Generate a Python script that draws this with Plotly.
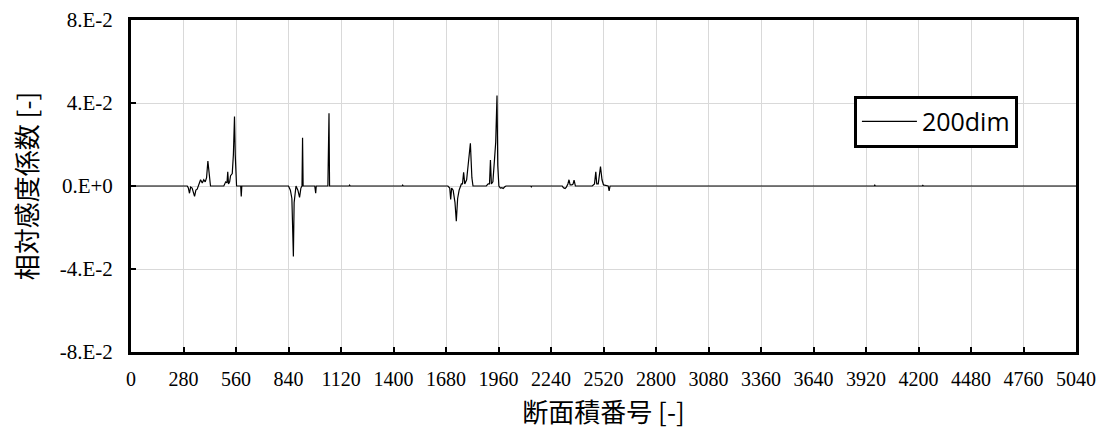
import plotly.graph_objects as go

# Section number (x) and relative sensitivity coefficient (y)
section_no = [
    0, 300, 306, 312, 318, 326, 339, 346, 353, 362, 371, 380, 388, 396, 403, 410, 417, 424,
    495, 505, 512, 516, 520, 526, 531, 540, 546, 552, 556, 563, 585, 588, 591,
    840, 850, 858, 866, 870, 880, 890, 899, 906, 912, 915, 918, 980, 985, 988,
    1050, 1056, 1059, 1163, 1166, 1169, 1446, 1449, 1452,
    1690, 1700, 1705, 1710, 1718, 1728, 1735, 1742, 1750, 1762, 1768, 1774, 1780, 1790,
    1797, 1810, 1818, 1824, 1895, 1905, 1912, 1917, 1922, 1930, 1938, 1945, 1952, 1956,
    1962, 1970, 1978, 1985, 1992, 2000,
    2132, 2135, 2138,
    2300, 2306, 2315, 2322, 2330, 2336, 2342, 2352, 2358, 2363, 2370,
    2460, 2472, 2479, 2484, 2492, 2504, 2512, 2520, 2545, 2550, 2555,
    2960, 2963, 2966, 3560, 3563, 3566, 3964, 3967, 3970, 4220, 4223, 4226,
    4500, 4503, 4506, 4780, 4783, 4786, 5040,
]
sensitivity = [
    0, 0, -0.001, -0.0035, -0.0005, -0.001, -0.005, -0.002, -0.0015, 0.001, 0.003, 0.0015,
    0.003, 0.002, 0.004, 0.012, 0.004, 0,
    0, 0.002, 0.0015, 0.0068, 0.001, 0.002, 0.005, 0.006, 0.015, 0.0335, 0.015, 0, 0, -0.005, 0,
    0, -0.002, -0.006, -0.034, -0.008, 0, -0.002, -0.0055, -0.001, 0, 0.0233, 0, 0, -0.0035, 0,
    0, 0.0351, 0, 0, 0.0004, 0, 0, 0.0004, 0,
    0, -0.001, -0.0065, -0.001, -0.002, -0.008, -0.017, -0.006, -0.002, 0.001, 0.001, 0.0066,
    0.001, 0.003, 0.010, 0.0206, 0.004, 0, 0, 0.001, 0.001, 0.0125, 0.001, 0.002, 0.012, 0.021,
    0.0436, 0.01, 0, -0.001, -0.0008, -0.0012, -0.0005, 0,
    0, -0.0004, 0,
    0, -0.0008, -0.0012, -0.0005, 0.001, 0.003, 0.0005, 0.0005, 0.001, 0.0028, 0,
    0, 0.001, 0.0068, 0.001, 0.001, 0.0094, 0.003, 0.0005, 0, -0.0024, 0,
    0, 0.0003, 0, 0, 0.0003, 0, 0, 0.0004, 0, 0, 0.0003, 0,
    0, 0.0003, 0, 0, 0.0003, 0, 0,
]

x_ticks = list(range(0, 5041, 280))
y_tickvals = [-0.08, -0.04, 0.0, 0.04, 0.08]
y_ticktext = ["-8.E-2", "-4.E-2", "0.E+0", "4.E-2", "8.E-2"]

fig = go.Figure()
fig.add_trace(go.Scatter(
    x=section_no, y=sensitivity, mode="lines", name="200dim",
    line=dict(color="black", width=1.2),
))

x_tick_font = dict(family="Liberation Serif", size=20, color="black")
y_tick_font = dict(family="Liberation Serif", size=21, color="black")
title_font = dict(family="Noto Sans CJK JP", size=26, color="black")

fig.update_layout(
    width=1099, height=430,
    margin=dict(l=131, r=23, t=20, b=78),
    paper_bgcolor="white", plot_bgcolor="white",
    showlegend=True,
    legend=dict(
        x=0.765, y=0.772, xanchor="left", yanchor="top",
        bordercolor="black", borderwidth=3, bgcolor="white",
        font=dict(family="Open Sans", size=25, color="black"),
        itemwidth=55,
    ),
    xaxis=dict(
        range=[0, 5040], tickvals=x_ticks, ticktext=[str(v) for v in x_ticks],
        showgrid=True, gridcolor="#d9d9d9", gridwidth=1,
        showline=True, linecolor="black", linewidth=3, mirror=True,
        ticks="inside", ticklen=5, tickwidth=2, tickcolor="black",
        tickfont=x_tick_font, zeroline=False, automargin=False,
        ticklabelstandoff=7,
        title=dict(text="断面積番号 [-]", font=title_font),
    ),
    yaxis=dict(
        range=[-0.08, 0.08], tickvals=y_tickvals, ticktext=y_ticktext,
        showgrid=True, gridcolor="#d9d9d9", gridwidth=1,
        showline=True, linecolor="black", linewidth=3, mirror=True,
        ticks="inside", ticklen=5, tickwidth=2, tickcolor="black",
        tickfont=y_tick_font, zeroline=False, automargin=False,
        ticklabelstandoff=11,
        title=dict(text="相対感度係数 [-]", font=title_font),
    ),
)

fig.write_html(
    "out.html",
    config={"displayModeBar": False},
    post_script="document.body.style.margin='0';document.body.style.padding='0';",
)
